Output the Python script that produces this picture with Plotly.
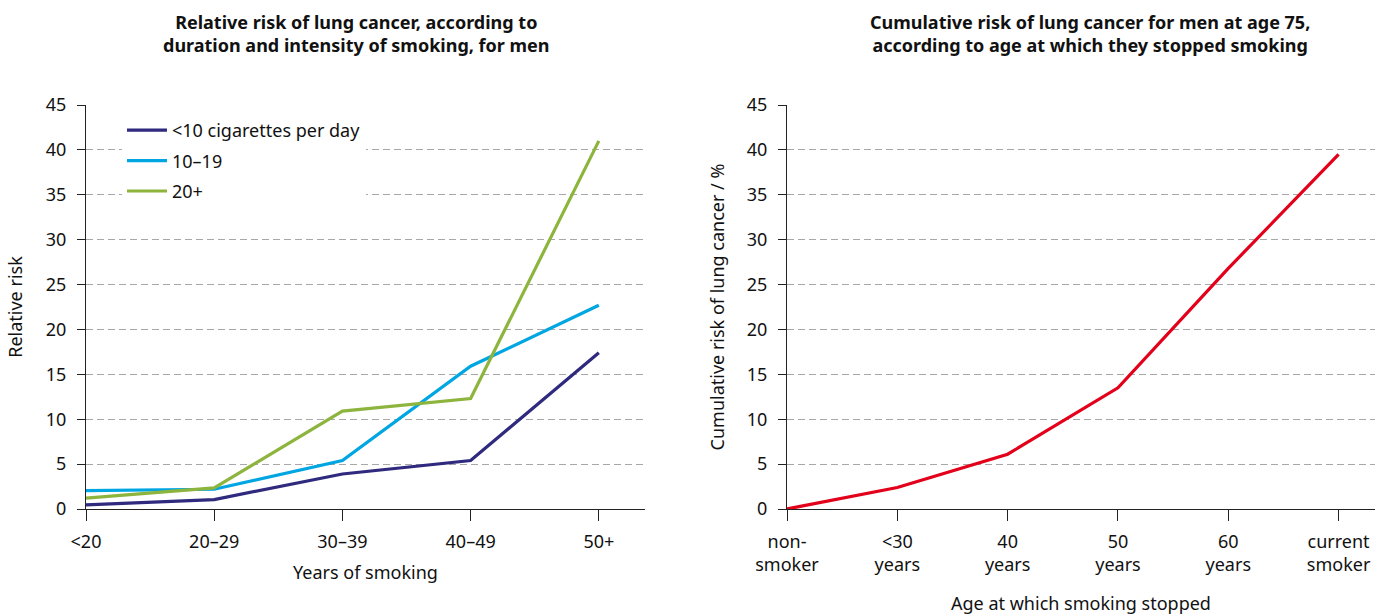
import plotly.graph_objects as go

# Left panel: relative risk by years of smoking and daily intensity
years_cats = ["<20", "20–29", "30–39", "40–49", "50+"]
risk_lt10 = [0.45, 1.05, 3.9, 5.4, 17.4]
risk_10_19 = [2.05, 2.2, 5.4, 15.9, 22.7]
risk_20plus = [1.2, 2.35, 10.9, 12.3, 41.0]
series_names = ["<10 cigarettes per day", "10–19", "20+"]

# Right panel: cumulative risk at age 75 by age at stopping
stop_cats = ["non-<br>smoker", "<30<br>years", "40<br>years", "50<br>years", "60<br>years", "current<br>smoker"]
cum_risk = [0.0, 2.4, 6.1, 13.5, 26.8, 39.5]

y_ticks = [0, 5, 10, 15, 20, 25, 30, 35, 40, 45]

FONT = "Noto Sans"
FS = 18
W, H = 1381, 616
ML, MR, MT, MB = 86, 6, 105, 107
PW, PH = W - ML - MR, H - MT - MB

purple = "#2f2a7e"
blue = "#00a6e2"
green = "#8db43d"
red = "#e2001a"


def fx(p):
    """pixel column -> paper x"""
    return (p - ML) / PW


def fy(p):
    """pixel row -> paper y"""
    return (H - MB - p) / PH


fig = go.Figure()
for i, (name, vals, col) in enumerate(zip(series_names, [risk_lt10, risk_10_19, risk_20plus],
                                          [purple, blue, green])):
    fig.add_trace(go.Scatter(x=years_cats, y=vals, mode="lines", name=name, legendgroup=f"g{i}",
                             line=dict(color=col, width=3.2), xaxis="x", yaxis="y"))
fig.add_trace(go.Scatter(x=stop_cats, y=cum_risk, mode="lines", showlegend=False,
                         line=dict(color=red, width=3.2), xaxis="x2", yaxis="y2"))

axis_common = dict(showline=True, linecolor="#222", linewidth=1, ticks="outside",
                   tickcolor="#222", tickfont=dict(family=FONT, size=FS, color="#111"),
                   zeroline=False, automargin=False)
x_common = dict(type="category", ticklen=11, ticklabelstandoff=5, showgrid=False, **axis_common)
y_common = dict(range=[0, 45], tickvals=y_ticks, ticklen=8, ticklabelstandoff=7,
                showgrid=True, gridcolor="#a8a8a8", griddash="7px,4px", gridwidth=1,
                domain=[0, 1], **axis_common)

fig.update_layout(
    width=W, height=H, margin=dict(l=ML, r=MR, t=MT, b=MB),
    paper_bgcolor="white", plot_bgcolor="white",
    font=dict(family=FONT, color="#111"),
    xaxis=dict(domain=[fx(86), fx(645)], range=[0, 4.36], anchor="y",
               title=dict(text="Years of smoking", font=dict(size=FS), standoff=14),
               **x_common),
    yaxis=dict(anchor="x",
               title=dict(text="Relative risk", font=dict(size=FS), standoff=18),
               **y_common),
    xaxis2=dict(domain=[fx(787), fx(1375)], range=[0, 5.33], anchor="y2",
                title=dict(text="Age at which smoking stopped", font=dict(size=FS), standoff=22),
                **x_common),
    yaxis2=dict(anchor="x2",
                title=dict(text="Cumulative risk of lung cancer / %", font=dict(size=FS), standoff=17),
                **y_common),
    legend=dict(x=fx(122), y=fy(112), xanchor="left", yanchor="top",
                bgcolor="white", font=dict(family=FONT, size=FS, color="#111"),
                itemwidth=40, tracegroupgap=4),
    annotations=[
        dict(text="<b>Relative risk of lung cancer, according to<br>duration and intensity of smoking, for men</b>",
             x=fx(356), y=fy(8), xref="paper", yref="paper", xanchor="center", yanchor="top",
             showarrow=False, font=dict(family=FONT, size=18, color="#111")),
        dict(text="<b>Cumulative risk of lung cancer for men at age 75,<br>according to age at which they stopped smoking</b>",
             x=fx(1090), y=fy(8), xref="paper", yref="paper", xanchor="center", yanchor="top",
             showarrow=False, font=dict(family=FONT, size=18, color="#111")),
    ],
)

fig.write_html("out.html")
